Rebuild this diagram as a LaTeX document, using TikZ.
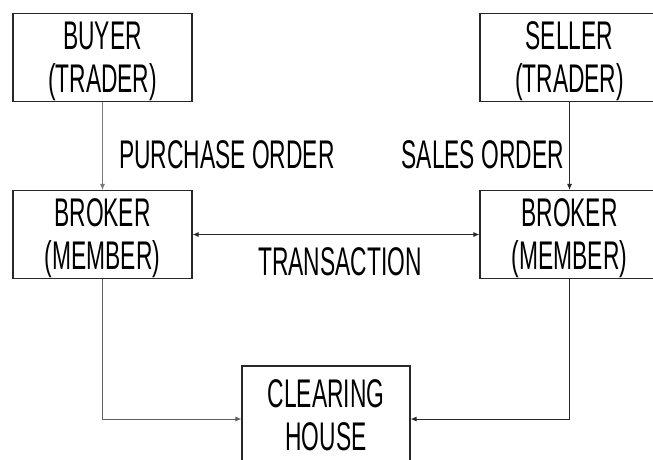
\documentclass[tikz,border=0pt]{standalone}
\usepackage{fontspec}
\newfontfamily\agencyfont[FakeStretch=0.57]{Liberation Sans}
\usepackage{tikz}
\usetikzlibrary{arrows.meta}
\usepackage{xcolor}
\definecolor{ColLine}{RGB}{40,40,40}
\definecolor{ColSoft}{RGB}{120,120,120}
\tikzstyle{BoxTrade}=[draw=ColLine,line width=1.1pt,minimum width=179pt,minimum height=88pt,
inner sep=0pt,align=center,text depth=-11pt,font=\agencyfont\fontsize{40}{43}\selectfont]
\tikzstyle{LabelFlow}=[inner sep=0pt,font=\agencyfont\fontsize{40}{43}\selectfont]
\tikzstyle{EdgeFlow}=[draw=ColLine,line width=0.9pt,-{Latex[length=6pt,width=5pt]}]

\begin{document}
\begin{tikzpicture}[x=1pt,y=-1pt]
        \useasboundingbox (0,0) rectangle (653,459);
        \node[BoxTrade](buyer)at(102.5,57.5){BUYER\\(TRADER)};
        \node[BoxTrade](seller)at(569.5,57.5){SELLER\\(TRADER)};
        \node[BoxTrade](brokerA)at(102.5,234.5){BROKER\\(MEMBER)};
        \node[BoxTrade](brokerB)at(569.5,234.5){BROKER\\(MEMBER)};
        \node[BoxTrade,text depth=0pt,minimum width=168pt,minimum height=98pt](clearing)at(326,415){CLEARING\\HOUSE};
        \node[LabelFlow,anchor=west](purchase)at(119,155){PURCHASE ORDER};
        \node[LabelFlow,anchor=east](sales)at(564,155){SALES ORDER};
        \node[LabelFlow](transaction)at(340,262){TRANSACTION};
        \draw[EdgeFlow,draw=ColSoft](buyer)--(brokerA);
        \draw[EdgeFlow](seller)--(brokerB);
        \draw[EdgeFlow,{Latex[length=6pt,width=5pt]}-{Latex[length=6pt,width=5pt]}](brokerA)--(brokerB);
        \draw[EdgeFlow,draw=ColSoft!80!black](brokerA)|-([yshift=-4pt]clearing.west);
        \draw[EdgeFlow](brokerB)|-([yshift=-4pt]clearing.east);
    \end{tikzpicture}
\end{document}
